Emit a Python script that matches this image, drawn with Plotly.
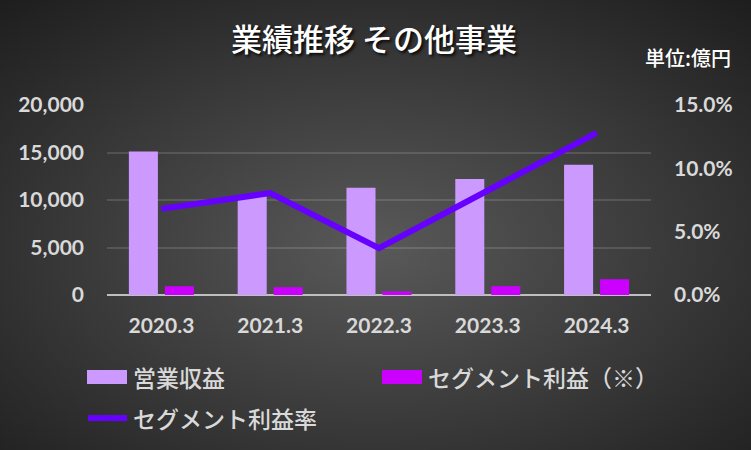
import base64
import plotly.graph_objects as go

# ---- data ----
categories = ["2020.3", "2021.3", "2022.3", "2023.3", "2024.3"]
revenue = [15100, 10500, 11300, 12200, 13700]          # 営業収益 (億円)
segment_profit = [920, 820, 370, 930, 1660]            # セグメント利益（※）
profit_rate = [0.068, 0.0805, 0.037, 0.082, 0.128]     # セグメント利益率

name_rev = "営業収益"
name_profit = "セグメント利益（※）"
name_rate = "セグメント利益率"
title_text = "業績推移 その他事業"
unit_text = "単位:億円"

# ---- geometry ----
W, H = 751, 450
L, R, T, B = 107, 100, 105, 155
PW, PH = W - L - R, H - T - B


def px(x):
    return (x - L) / PW


def py(y):
    return (H - B - y) / PH


C_REV = "#cc99ff"
C_PROFIT = "#cc00ff"
C_RATE = "#6600ff"
C_TEXT = "#d9d9d9"
TICK_FONT = dict(family="Lato, Roboto, sans-serif", size=21, color=C_TEXT, weight="bold")
JP = "Noto Sans CJK JP"

svg = (
    f'<svg xmlns="http://www.w3.org/2000/svg" width="{W}" height="{H}" viewBox="0 0 {W} {H}" '
    'preserveAspectRatio="none"><defs><radialGradient id="g" cx="0.5" cy="0.55" r="0.75">'
    '<stop offset="0" stop-color="#595959"/><stop offset="1" stop-color="#1d1d1d"/>'
    f'</radialGradient></defs><rect width="{W}" height="{H}" fill="url(#g)"/></svg>'
)
bg_src = "data:image/svg+xml;base64," + base64.b64encode(svg.encode()).decode()

fig = go.Figure()
fig.add_trace(go.Bar(x=categories, y=revenue, name=name_rev, marker_color=C_REV,
                     marker_line_width=0, showlegend=False))
fig.add_trace(go.Bar(x=categories, y=segment_profit, name=name_profit, marker_color=C_PROFIT,
                     marker_line_width=0, showlegend=False))
fig.add_trace(go.Scatter(x=categories, y=profit_rate, name=name_rate, mode="lines",
                         line=dict(color=C_RATE, width=6), yaxis="y2", showlegend=False))

shapes = [
    dict(type="rect", xref="paper", yref="paper", x0=px(87), x1=px(127), y0=py(384), y1=py(370),
         fillcolor=C_REV, line_width=0),
    dict(type="rect", xref="paper", yref="paper", x0=px(382), x1=px(422), y0=py(384), y1=py(370),
         fillcolor=C_PROFIT, line_width=0),
    dict(type="line", xref="paper", yref="paper", x0=px(88), x1=px(127), y0=py(418), y1=py(418),
         line=dict(color=C_RATE, width=6)),
]

leg_font = dict(family=JP, size=23, color=C_TEXT, weight=500)
annotations = [
    dict(text=name_rev, x=px(131), y=py(377), xref="paper", yref="paper", xanchor="left",
         yanchor="middle", showarrow=False, font=leg_font),
    dict(text=name_profit, x=px(426), y=py(377), xref="paper", yref="paper", xanchor="left",
         yanchor="middle", showarrow=False, font=leg_font),
    dict(text=name_rate, x=px(131), y=py(418), xref="paper", yref="paper", xanchor="left",
         yanchor="middle", showarrow=False, font=leg_font),
    dict(text=unit_text, x=px(733), y=py(58), xref="paper", yref="paper", xanchor="right",
         yanchor="middle", showarrow=False,
         font=dict(family=JP, size=20, color="#ffffff", weight=500)),
]

fig.update_layout(
    width=W, height=H,
    margin=dict(l=L, r=R, t=T, b=B, autoexpand=False),
    paper_bgcolor="#1d1d1d",
    plot_bgcolor="rgba(0,0,0,0)",
    barmode="group",
    bargap=0.338,
    bargroupgap=0.194,
    showlegend=False,
    title=dict(text=title_text, x=374 / W, y=1 - 40 / H, xanchor="center", yanchor="middle",
               font=dict(family=JP, size=31, color="#ffffff", weight=500,
                         shadow="2px 2px 3px rgba(0,0,0,0.85)")),
    xaxis=dict(type="category", showgrid=False, showline=False, ticks="",
               tickfont=TICK_FONT, ticklabelstandoff=16),
    yaxis=dict(range=[0, 20000], dtick=5000, tickformat=",", showgrid=True,
               gridcolor="rgba(255,255,255,0.13)", gridwidth=1.5,
               zeroline=True, zerolinecolor="#bfbfbf", zerolinewidth=2,
               showline=False, ticks="", tickfont=TICK_FONT, ticklabelstandoff=22),
    yaxis2=dict(range=[0, 0.15], dtick=0.05, tickformat=".1%", overlaying="y", side="right",
                showgrid=False, zeroline=False, showline=False, ticks="",
                tickfont=TICK_FONT, ticklabelstandoff=22),
    images=[dict(source=bg_src, xref="paper", yref="paper", x=-L / PW, y=1 + T / PH,
                 sizex=W / PW, sizey=H / PH, xanchor="left", yanchor="top",
                 sizing="stretch", layer="below")],
    shapes=shapes,
    annotations=annotations,
)

fig.write_html("out.html")
